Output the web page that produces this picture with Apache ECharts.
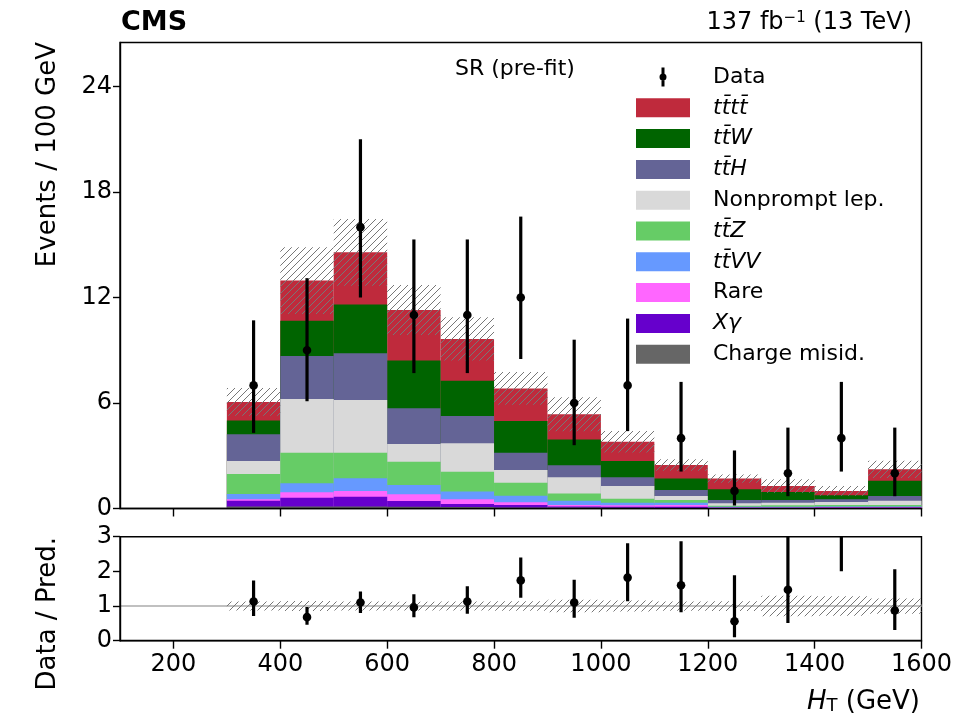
<!DOCTYPE html>
<html>
<head>
<meta charset="utf-8">
<script src="https://cdn.jsdelivr.net/npm/echarts@6/dist/echarts.min.js"></script>
<style>
  html, body { margin: 0; padding: 0; background: #fff; }
  #chart { width: 960px; height: 720px; }
</style>
</head>
<body>
<div id="chart"></div>
<script>
// bins: 100 GeV wide, lower edges
const binLow = [300, 400, 500, 600, 700, 800, 900, 1000, 1100, 1200, 1300, 1400, 1500];
const binWidth = 100;

// expected yields per process (events / bin), bottom of the stack first
const chargeMisid = [0.12, 0.12, 0.12, 0.10, 0.08, 0.06, 0.05, 0.04, 0.03, 0.02, 0.02, 0.02, 0.02];
const xGamma = [0.32, 0.49, 0.55, 0.33, 0.17, 0.14, 0.07, 0.06, 0.07, 0.02, 0.02, 0.03, 0.03];
const rare = [0.08, 0.31, 0.33, 0.38, 0.27, 0.15, 0.08, 0.08, 0.10, 0.02, 0.02, 0.03, 0.03];
const ttVV = [0.30, 0.51, 0.72, 0.53, 0.44, 0.38, 0.24, 0.15, 0.12, 0.04, 0.04, 0.04, 0.04];
const ttZ = [1.14, 1.74, 1.45, 1.32, 1.13, 0.74, 0.42, 0.23, 0.16, 0.05, 0.08, 0.08, 0.08];
const nonprompt = [0.74, 3.06, 3.00, 1.01, 1.62, 0.72, 0.91, 0.72, 0.23, 0.15, 0.15, 0.17, 0.24];
const ttH = [1.52, 2.44, 2.66, 2.03, 1.55, 0.98, 0.69, 0.49, 0.34, 0.18, 0.15, 0.15, 0.27];
const ttW = [0.78, 2.01, 2.77, 2.71, 2.01, 1.81, 1.47, 0.93, 0.65, 0.61, 0.46, 0.23, 0.87];
const tttt = [1.06, 2.28, 2.97, 2.88, 2.37, 1.85, 1.43, 1.10, 0.77, 0.61, 0.34, 0.25, 0.65];

// total prediction uncertainty (half width of hatched band)
const predUnc = [0.79, 1.90, 1.90, 1.42, 1.23, 0.93, 0.96, 0.61, 0.33, 0.24, 0.38, 0.28, 0.49];

// observed data with asymmetric errors
const dataCounts = [7, 9, 16, 11, 11, 12, 6, 7, 4, 1, 2, 4, 2];
const dataLow = [4.3, 6.1, 12.0, 7.7, 7.7, 8.5, 3.6, 4.4, 2.1, 0.17, 0.7, 2.1, 0.7];
const dataHigh = [10.7, 13.1, 21.0, 15.3, 15.3, 16.6, 9.6, 10.8, 7.2, 3.3, 4.6, 7.2, 4.6];

// data / prediction
const ratio = [1.13, 0.68, 1.10, 0.96, 1.13, 1.74, 1.10, 1.82, 1.60, 0.56, 1.47, 4.0, 0.87];
const ratioLow = [0.71, 0.46, 0.80, 0.68, 0.78, 1.24, 0.66, 1.14, 0.82, 0.10, 0.51, 2.0, 0.31];
const ratioHigh = [1.74, 0.97, 1.42, 1.34, 1.57, 2.40, 1.76, 2.81, 2.87, 1.89, 3.5, 7.0, 2.06];

const xTicks = [200, 400, 600, 800, 1000, 1200, 1400, 1600];

const processNames = ['Charge misid.', 'Xγ', 'Rare', 'tt\u0304VV', 'tt\u0304Z', 'Nonprompt lep.', 'tt\u0304H', 'tt\u0304W', 'tt\u0304tt\u0304'];
const processColors = ['#666666', '#6600cc', '#ff66ff', '#6699ff', '#66cc66', '#d9d9d9', '#646496', '#006400', '#bf2a3c'];
const processYields = [chargeMisid, xGamma, rare, ttVV, ttZ, nonprompt, ttH, ttW, tttt];
const italicNames = ['Xγ', 'tt\u0304VV', 'tt\u0304Z', 'tt\u0304H', 'tt\u0304W', 'tt\u0304tt\u0304'];

const FONT = 'DejaVu Sans';

function hatchCanvas() {
  const s = 7;
  const c = document.createElement('canvas');
  c.width = s;
  c.height = s;
  const g = c.getContext('2d');
  g.strokeStyle = '#777777';
  g.lineWidth = 1;
  g.beginPath();
  g.moveTo(0, s); g.lineTo(s, 0);
  g.moveTo(-1, 1); g.lineTo(1, -1);
  g.moveTo(s - 1, s + 1); g.lineTo(s + 1, s - 1);
  g.stroke();
  return c;
}
const hatch = hatchCanvas();

function rectItem(api, fill) {
  const p0 = api.coord([api.value(0), api.value(3)]);
  const p1 = api.coord([api.value(1), api.value(2)]);
  return {
    type: 'rect',
    shape: { x: p0[0], y: p0[1], width: p1[0] - p0[0], height: p1[1] - p0[1] },
    style: { fill: fill }
  };
}

function errItem(api) {
  const c = api.coord([api.value(0), api.value(1)]);
  const lo = api.coord([api.value(0), api.value(2)]);
  const hi = api.coord([api.value(0), api.value(3)]);
  return {
    type: 'group',
    children: [
      { type: 'line', shape: { x1: c[0], y1: lo[1], x2: c[0], y2: hi[1] }, style: { stroke: '#000', lineWidth: 3.2 } },
      { type: 'circle', shape: { cx: c[0], cy: c[1], r: 4.3 }, style: { fill: '#000' } }
    ]
  };
}

// cumulative stack tops
const cumTops = [];
let running = binLow.map(() => 0);
processYields.forEach((arr) => {
  running = running.map((v, i) => v + arr[i]);
  cumTops.push(running.slice());
});
const predTotal = cumTops[cumTops.length - 1];

// stack: draw the tallest layer first, each layer from 0 to its cumulative top
const stackSeries = [];
for (let k = processNames.length - 1; k >= 0; k--) {
  const color = processColors[k];
  stackSeries.push({
    name: processNames[k],
    type: 'custom',
    xAxisIndex: 0,
    yAxisIndex: 0,
    itemStyle: { color: color },
    data: binLow.map((x, i) => [x, x + binWidth, 0, cumTops[k][i]]),
    encode: { x: [0, 1], y: [2, 3] },
    renderItem: (params, api) => rectItem(api, color),
    z: 2
  });
}

const option = {
  animation: false,
  textStyle: { fontFamily: FONT },
  grid: [
    { left: 120, top: 42.5, width: 801.5, height: 466, show: true, borderColor: '#000', borderWidth: 1.4 },
    { left: 120, top: 536.7, width: 801.5, height: 104, show: true, borderColor: '#000', borderWidth: 1.4 }
  ],
  xAxis: [
    {
      gridIndex: 0, type: 'value', min: 100, max: 1600, z: 5,
      axisLine: { show: true, lineStyle: { color: '#000', width: 1.4 } },
      axisTick: { show: true, length: 8, customValues: xTicks, lineStyle: { color: '#000', width: 1.4 } },
      axisLabel: { show: false },
      splitLine: { show: false }
    },
    {
      gridIndex: 1, type: 'value', min: 100, max: 1600, z: 5,
      axisLine: { show: true, lineStyle: { color: '#000', width: 1.4 } },
      axisTick: { show: true, length: 8, customValues: xTicks, lineStyle: { color: '#000', width: 1.4 } },
      axisLabel: { customValues: xTicks, margin: 12, color: '#000', fontSize: 24, fontFamily: FONT, formatter: (v) => String(v) },
      splitLine: { show: false }
    }
  ],
  yAxis: [
    {
      gridIndex: 0, type: 'value', min: 0, max: 26.5, interval: 6, z: 5,
      axisLine: { show: true, lineStyle: { color: '#000', width: 1.4 } },
      axisTick: { show: true, length: 7, lineStyle: { color: '#000', width: 1.4 } },
      axisLabel: { margin: 8, color: '#000', fontSize: 24, fontFamily: FONT, showMaxLabel: false },
      splitLine: { show: false }
    },
    {
      gridIndex: 1, type: 'value', min: 0, max: 3, interval: 1, z: 5,
      axisLine: { show: true, lineStyle: { color: '#000', width: 1.4 } },
      axisTick: { show: true, length: 7, lineStyle: { color: '#000', width: 1.4 } },
      axisLabel: { margin: 8, color: '#000', fontSize: 24, fontFamily: FONT },
      splitLine: { show: false }
    }
  ],
  legend: {
    orient: 'vertical',
    left: 636,
    top: 66,
    padding: 0,
    itemWidth: 54,
    itemHeight: 19,
    itemGap: 8.8,
    selectedMode: false,
    textStyle: {
      fontFamily: FONT, fontSize: 22, color: '#000', lineHeight: 19,
      rich: {
        s: { width: 18 },
        i: { fontFamily: FONT, fontSize: 22, fontStyle: 'italic', color: '#000', lineHeight: 19 },
        n: { fontFamily: FONT, fontSize: 22, color: '#000', lineHeight: 19 }
      }
    },
    formatter: (name) => italicNames.includes(name) ? '{s|}{i|' + name + '}' : '{s|}{n|' + name + '}',
    data: [
      { name: 'Data', icon: 'path://M2,0h3v19h-3z M0,9.5a3.5,3.5 0 1,1 7,0a3.5,3.5 0 1,1 -7,0z' }
    ].concat(processNames.slice().reverse().map((n) => ({ name: n, icon: 'rect' })))
  },
  graphic: [
    { type: 'text', x: 121, y: 23, style: { text: 'CMS', fontFamily: FONT, fontSize: 27, fontWeight: 'bold', fill: '#000', verticalAlign: 'middle' } },
    {
      type: 'text', x: 912, y: 23,
      style: {
        text: '137 fb{sup|\u22121} (13 TeV)', fontFamily: FONT, fontSize: 24, fill: '#000', align: 'right', verticalAlign: 'middle',
        rich: { sup: { fontFamily: FONT, fontSize: 15, verticalAlign: 'top', fill: '#000' } }
      }
    },
    { type: 'text', x: 455, y: 69, style: { text: 'SR (pre-fit)', fontFamily: FONT, fontSize: 22, fill: '#000', verticalAlign: 'middle' } },
    {
      type: 'text', x: 48, y: 42, rotation: Math.PI / 2,
      style: { text: 'Events / 100 GeV', fontFamily: FONT, fontSize: 26, fill: '#000', align: 'right', verticalAlign: 'middle' }
    },
    {
      type: 'text', x: 48, y: 537, rotation: Math.PI / 2,
      style: { text: 'Data / Pred.', fontFamily: FONT, fontSize: 26, fill: '#000', align: 'right', verticalAlign: 'middle' }
    },
    {
      type: 'text', x: 920, y: 702,
      style: {
        text: '{i|H}{sub|T} (GeV)', fontFamily: FONT, fontSize: 26, fill: '#000', align: 'right', verticalAlign: 'middle',
        rich: {
          i: { fontFamily: FONT, fontSize: 26, fontStyle: 'italic', fill: '#000' },
          sub: { fontFamily: FONT, fontSize: 18, verticalAlign: 'bottom', fill: '#000' }
        }
      }
    }
  ],
  series: stackSeries.concat([
    {
      name: 'Uncertainty',
      type: 'custom',
      xAxisIndex: 0,
      yAxisIndex: 0,
      data: binLow.map((x, i) => [x, x + binWidth, predTotal[i] - predUnc[i], predTotal[i] + predUnc[i]]),
      encode: { x: [0, 1], y: [2, 3] },
      renderItem: (params, api) => rectItem(api, { image: hatch, repeat: 'repeat' }),
      z: 3
    },
    {
      name: 'Data',
      type: 'custom',
      xAxisIndex: 0,
      yAxisIndex: 0,
      itemStyle: { color: '#000' },
      data: binLow.map((x, i) => [x + binWidth / 2, dataCounts[i], dataLow[i], dataHigh[i]]),
      encode: { x: 0, y: [1, 2, 3] },
      renderItem: (params, api) => errItem(api),
      z: 4
    },
    {
      name: 'unity',
      type: 'line',
      xAxisIndex: 1,
      yAxisIndex: 1,
      data: [[100, 1], [1600, 1]],
      symbol: 'none',
      lineStyle: { color: '#c0c0c0', width: 2 },
      z: 1
    },
    {
      name: 'RatioUnc',
      type: 'custom',
      xAxisIndex: 1,
      yAxisIndex: 1,
      data: binLow.map((x, i) => [x, x + binWidth, 1 - predUnc[i] / predTotal[i], 1 + predUnc[i] / predTotal[i]]),
      encode: { x: [0, 1], y: [2, 3] },
      renderItem: (params, api) => rectItem(api, { image: hatch, repeat: 'repeat' }),
      z: 3
    },
    {
      name: 'Ratio',
      type: 'custom',
      xAxisIndex: 1,
      yAxisIndex: 1,
      clip: true,
      data: binLow.map((x, i) => [x + binWidth / 2, ratio[i], ratioLow[i], ratioHigh[i]]),
      encode: { x: 0, y: [1, 2, 3] },
      renderItem: (params, api) => errItem(api),
      z: 4
    }
  ])
};

const chart = echarts.init(document.getElementById('chart'));
chart.setOption(option);
</script>
</body>
</html>
